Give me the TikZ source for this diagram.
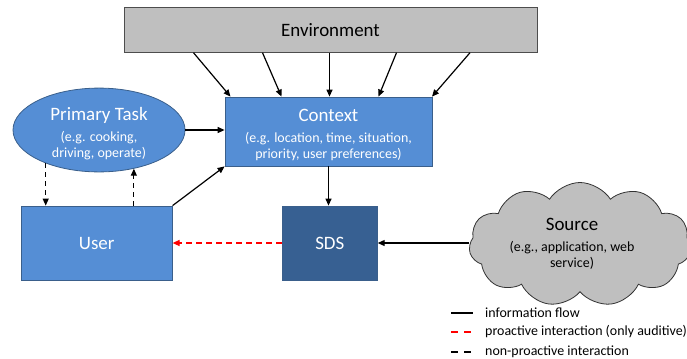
\documentclass[tikz,border=0pt]{standalone}
\usepackage{fontspec}
\setmainfont{Carlito}
\usetikzlibrary{shapes.geometric,shapes.symbols,arrows.meta}

\definecolor{ctxblue}{HTML}{558ED5}
\definecolor{sdsblue}{HTML}{376092}
\definecolor{boxline}{HTML}{3A5F8B}
\definecolor{envgray}{HTML}{BFBFBF}
\definecolor{envline}{HTML}{4D4D4D}
\definecolor{prored}{HTML}{FF0000}

\newcommand{\boxtitle}[1]{{\fontsize{19}{22}\selectfont #1}}

\begin{document}
\begin{tikzpicture}[x=1bp,y=-1bp,
  font=\fontsize{14}{16}\selectfont,
  box/.style={draw=boxline,line width=0.8bp,fill=ctxblue,text=white,align=center,inner sep=0pt},
  flow/.style={-{Triangle[length=7bp,width=6bp]},line width=1.2bp},
  nonpro/.style={flow,dash pattern=on 5bp off 4bp},
  pro/.style={flow,draw=prored,dash pattern=on 6bp off 4bp},
  legendline/.style={line width=2bp},
  legendtext/.style={anchor=west,inner sep=0pt}
]
\useasboundingbox (0,0) rectangle (687,358);

\node[draw=envline,line width=0.8bp,fill=envgray,minimum width=413bp,minimum height=45bp,inner sep=0pt] (env) at (330.5,29.8) {\boxtitle{Environment}};
\node[box,minimum width=207bp,minimum height=69bp] (ctx) at (328.5,131.5)
  {\boxtitle{\rule{0pt}{20bp}Context}\\[5bp](e.g. location, time, situation,\\priority, user preferences)};
\node[box,ellipse,minimum width=172bp,minimum height=74bp] (task) at (99,130)
  {\boxtitle{\rule{0pt}{20bp}Primary Task}\\[5bp](e.g. cooking,\\driving, operate)};
\node[box,minimum width=151bp,minimum height=74bp] (user) at (96.7,243) {\boxtitle{User}};
\node[box,fill=sdsblue,minimum width=95bp,minimum height=74bp] (sds) at (329.8,243) {\boxtitle{SDS}};
\node[cloud,cloud puffs=11,cloud puff arc=115,draw=black!80,line width=0.8bp,fill=envgray,
  minimum width=222bp,minimum height=124bp,inner sep=0pt] (src) at (580,244.5) {};
\node[align=center,inner sep=0pt] (srctext) at (572,244)
  {\boxtitle{Source}\\[5bp](e.g., application, web\\service)};

\foreach \a/\b in {-137/-98,-68/-47,-1/1,66/50,139.5/103.5}
  \draw[flow] ([xshift=\a bp]env.south) -- ([xshift=\b bp]ctx.north);
\draw[flow] (task.east) -- (task.east -| ctx.west);
\draw[flow] (user.north east) -- (ctx.south west);
\draw[flow] (ctx.south) -- (ctx.south |- sds.north);
\draw[flow] (sds.east -| src.west) -- (sds.east);
\draw[pro] (sds.west) -- (user.east);
\draw[nonpro] (task.212) -- (task.212 |- user.north);
\draw[nonpro] (task.312 |- user.north) -- (task.312);

\node[legendtext] (lg1) at (485,312.5) {information flow};
\node[legendtext] (lg2) at (485,331.5) {proactive interaction (only auditive)};
\node[legendtext] (lg3) at (485,351.5) {non-proactive interaction};
\draw[legendline] ([xshift=-34bp]lg1.west) -- ([xshift=-12bp]lg1.west);
\draw[legendline,draw=red,dash pattern=on 7bp off 6bp] ([xshift=-34bp]lg2.west) -- ([xshift=-14bp]lg2.west);
\draw[legendline,dash pattern=on 7bp off 6bp] ([xshift=-34bp]lg3.west) -- ([xshift=-14bp]lg3.west);
\end{tikzpicture}
\end{document}
